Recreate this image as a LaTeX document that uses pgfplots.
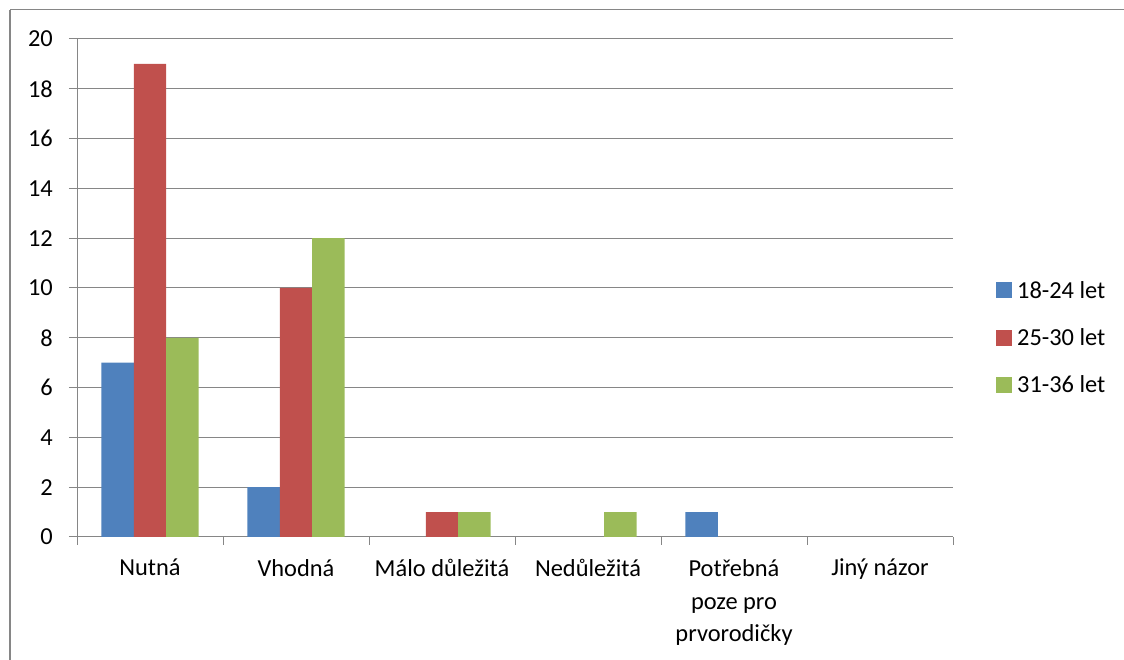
\documentclass[border=0pt]{standalone}
\usepackage{fontspec}
\setmainfont{Carlito}
\usepackage{pgfplots}
\pgfplotsset{compat=1.18}
\definecolor{sblue}{HTML}{4F81BD}
\definecolor{sred}{HTML}{C0504D}
\definecolor{sgreen}{HTML}{9BBB59}
\definecolor{axgray}{HTML}{868686}
\begin{document}
\begin{tikzpicture}[x=1bp,y=1bp]
\useasboundingbox (0,0) rectangle (1124,660);
\draw[axgray, line width=1bp] (10,650) -- (1124,650);
\draw[axgray, line width=2.5bp] (10,650) -- (10,0);
\begin{axis}[
  at={(77bp,123bp)}, anchor=south west,
  scale only axis, width=876bp, height=498bp,
  xmin=0.5, xmax=6.5, ymin=0, ymax=20,
  ybar, bar width=0.222,
  ytick={0,2,...,20},
  /pgf/number format/assume math mode=true,
  ymajorgrids, grid style={axgray, line width=1bp},
  axis x line*=bottom, axis y line*=left,
  axis line style={axgray, line width=1bp, -},
  tick align=outside, major tick length=8bp,
  tick style={axgray, line width=1bp},
  xtick={0.5,1.5,...,6.5}, xticklabels={},
  extra x ticks={1,2,3,4,5,6},
  extra x tick labels={Nutná, Vhodná, Málo důležitá, Nedůležitá, {Potřebná\\poze pro\\prvorodičky}, Jiný názor},
  extra x tick style={major tick length=0bp, tick style={draw=none},
    xticklabel style={font=\fontsize{24.5}{33}\selectfont, align=center, anchor=north, inner sep=0pt, yshift=-22bp}},
  yticklabel style={font=\fontsize{24.5}{28}\selectfont, anchor=east, inner sep=0pt, xshift=-16bp},
  legend style={at={(1.049,0.4)}, anchor=west, draw=none, fill=none,
    font=\fontsize{24.5}{28}\selectfont, row sep=27bp, inner sep=0pt,
    nodes={inner sep=1bp},
    /tikz/every odd column/.append style={column sep=4bp}},
  legend cell align=left,
  legend image code/.code={\fill[#1] (0bp,-8bp) rectangle (16bp,8bp);},
]
\addplot+[fill=sblue, draw=none, bar shift=-0.222] coordinates {(1,7) (2,2) (5,1)};
\addplot+[fill=sred, draw=none, bar shift=0] coordinates {(1,19) (2,10) (3,1)};
\addplot+[fill=sgreen, draw=none, bar shift=0.222] coordinates {(1,8) (2,12) (3,1) (4,1)};
\legend{18-24 let, 25-30 let, 31-36 let}
\end{axis}
\end{tikzpicture}
\end{document}
